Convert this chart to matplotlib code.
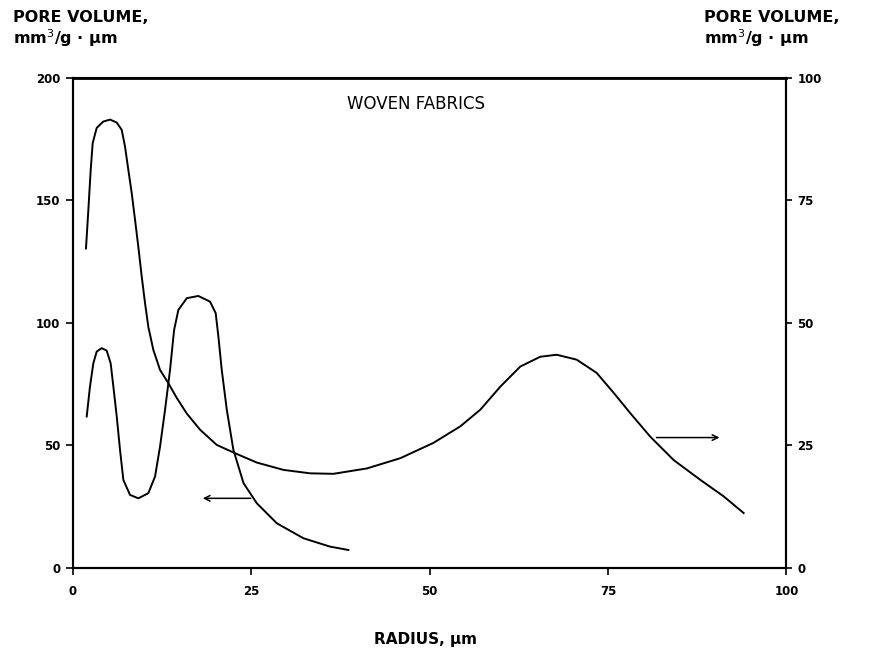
import matplotlib
matplotlib.use("Agg")
import matplotlib.pyplot as plt

plt.rcParams['font.family'] = ['DejaVu Sans']

# pore volume distribution read against the left scale (mm3/g·um)
left_radius = [1.92, 2.38, 2.85, 3.32, 4.02, 4.72, 5.28, 5.66, 6.13, 6.59,
               7.06, 7.99, 9.16, 10.56, 11.5, 12.2, 12.9, 13.6, 14.17, 14.77,
               15.95, 17.57, 19.2, 20.0, 20.38, 20.85, 21.56, 22.48, 23.9,
               25.76, 28.57, 32.3, 36.0, 38.6]
left_volume = [61.8, 74, 83.5, 88.3, 89.7, 88.7, 83.5, 74, 61.8, 48.2,
               35.9, 29.8, 28.4, 30.5, 37.3, 49.5, 64.5, 80.8, 97.1, 105.3,
               110.1, 111, 108.7, 104, 94.4, 80.8, 64.5, 48.2, 34.6,
               26.4, 18.2, 12.1, 8.7, 7.3]

# pore volume distribution read against the right scale
right_radius = [1.82, 2.15, 2.48, 2.76, 3.32, 4.25, 5.19, 6.13, 6.83, 7.29,
                7.76, 8.23, 8.7, 9.16, 9.63, 10.1, 10.56, 11.26, 12.2, 13.37,
                14.54, 15.95, 17.81, 20.15, 22.72, 25.76, 29.5, 33.24, 36.5,
                41.2, 45.9, 50.5, 54.3, 57.1, 59.9, 62.7, 65.5, 67.8, 70.6,
                73.4, 75.8, 78.1, 80.9, 84.2, 87.9, 91.2, 94.0]
right_volume = [65.2, 73, 81.2, 86.7, 89.8, 91.1, 91.5, 90.9, 89.4, 86,
                81.2, 76.5, 71, 65.5, 59.5, 54, 49.2, 44.5, 40.4, 37.7,
                34.7, 31.5, 28.2, 25.1, 23.4, 21.5, 20, 19.3, 19.2,
                20.3, 22.4, 25.5, 28.9, 32.3, 37, 41.1, 43.1, 43.5, 42.5,
                39.8, 35.7, 31.6, 26.8, 22, 18, 14.6, 11.2]

x_ticks = [0, 25, 50, 75, 100]
left_ticks = [0, 50, 100, 150, 200]
right_ticks = [0, 25, 50, 75, 100]

fig = plt.figure(figsize=(8.69, 6.55), dpi=100)
ax = fig.add_axes([0.084, 0.133, 0.821, 0.748])
ax2 = ax.twinx()

ax.plot(left_radius, left_volume, color='black', lw=1.4)
ax2.plot(right_radius, right_volume, color='black', lw=1.4)

ax.set_xlim(0, 100)
ax.set_ylim(0, 200)
ax2.set_ylim(0, 100)

ax.set_xticks(x_ticks)
ax.set_yticks(left_ticks)
ax2.set_yticks(right_ticks)
tick_font = dict(fontsize=8.5, fontweight='bold')
ax.set_xticklabels([str(v) for v in x_ticks], **tick_font)
ax.set_yticklabels([str(v) for v in left_ticks], **tick_font)
ax2.set_yticklabels([str(v) for v in right_ticks], **tick_font)
ax.tick_params(axis='both', length=5, width=1.2, pad=4)
ax.tick_params(axis='x', pad=7)
ax2.tick_params(axis='y', length=4, width=1.2, pad=4)

for a in (ax, ax2):
    for s in a.spines.values():
        s.set_linewidth(1.5)
ax2.spines['top'].set_linewidth(2.0)

# arrows tying each curve to its scale
ax.annotate('', xy=(17.8, 28.4), xytext=(25.3, 28.4),
            arrowprops=dict(arrowstyle='->', color='black', lw=1.1))
ax2.annotate('', xy=(91, 26.6), xytext=(81.4, 26.6),
             arrowprops=dict(arrowstyle='->', color='black', lw=1.1))

ax.text(48.1, 189.5, 'WOVEN FABRICS', fontsize=12, ha='center', va='center')

fig.text(0.015, 0.955, 'PORE VOLUME,\nmm$^3$/g · µm', fontsize=11.5,
         fontweight='bold', ha='left', va='center', linespacing=1.1)
fig.text(0.81, 0.955, 'PORE VOLUME,\nmm$^3$/g · µm', fontsize=11.5,
         fontweight='bold', ha='left', va='center', linespacing=1.1)
fig.text(0.49, 0.023, 'RADIUS, µm', fontsize=11, fontweight='bold',
         ha='center', va='center')

fig.savefig('out.png', dpi=100)
